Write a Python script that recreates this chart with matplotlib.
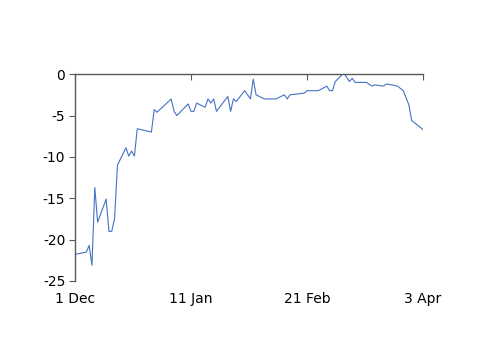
import pandas as pd
import matplotlib
matplotlib.use('Agg')
import matplotlib.pyplot as plt
import matplotlib.dates as mdates

# days after 1 Dec and the value
day_offsets = [0, 4, 5, 6, 7, 8, 11, 12, 13, 14, 15, 18, 19, 20, 21, 22, 27, 28, 29,
               34, 35, 36, 40, 41, 42, 43, 46, 47, 48, 49, 50, 54, 55, 56, 57, 60, 62,
               63, 64, 67, 71, 74, 75, 76, 81, 82, 86, 89, 90, 91, 92, 95, 97, 98, 99,
               103, 105, 106, 109, 110, 112, 114, 116, 118, 119, 123]
values = [-21.8, -21.5, -20.7, -23.1, -13.7, -17.9, -15.1, -19.0, -19.0, -17.4, -11.0,
          -8.9, -9.9, -9.3, -9.9, -6.6, -7.0, -4.3, -4.6, -3.0, -4.5, -5.0, -3.6, -4.5,
          -4.5, -3.5, -4.0, -3.0, -3.5, -3.0, -4.5, -2.7, -4.5, -3.0, -3.3, -2.0, -3.0,
          -0.6, -2.5, -3.0, -3.0, -2.5, -3.0, -2.5, -2.3, -2.0, -2.0, -1.45, -2.0, -2.0,
          -0.9, 0.15, -0.9, -0.5, -1.0, -1.0, -1.45, -1.3, -1.45, -1.2, -1.3, -1.45,
          -2.0, -3.7, -5.6, -6.7]
tick_dates = ['2018-12-01', '2019-01-11', '2019-02-21', '2019-04-03']
tick_labels = ['1 Dec', '11 Jan', '21 Feb', '3 Apr']
y_ticks = [0, -5, -10, -15, -20, -25]

start = pd.Timestamp('2018-12-01')
dates = [start + pd.Timedelta(days=d) for d in day_offsets]

fig = plt.figure(figsize=(5, 3.53), dpi=100)
ax = fig.add_axes([0.15, 0.204, 0.696, 0.586])
ax.plot(dates, values, color='#4472C4', lw=0.8)

ax.set_xlim(pd.Timestamp(tick_dates[0]), pd.Timestamp(tick_dates[-1]))
ax.set_ylim(-25, 0)
ax.set_xticks([pd.Timestamp(t) for t in tick_dates])
ax.set_xticklabels(tick_labels)
ax.set_yticks(y_ticks)
ax.set_yticklabels([str(v) for v in y_ticks])

axis_col = '#595959'
for s in ['right', 'bottom']:
    ax.spines[s].set_visible(False)
for s in ['top', 'left']:
    ax.spines[s].set_color(axis_col)
    ax.spines[s].set_linewidth(1.0)

ax.tick_params(axis='x', top=True, bottom=False, labeltop=False, labelbottom=True,
               direction='in', length=4, color=axis_col, labelsize=10, pad=8)
ax.tick_params(axis='y', direction='out', length=4, color=axis_col, labelsize=10, pad=3)

fig.savefig('out.png', dpi=100)
